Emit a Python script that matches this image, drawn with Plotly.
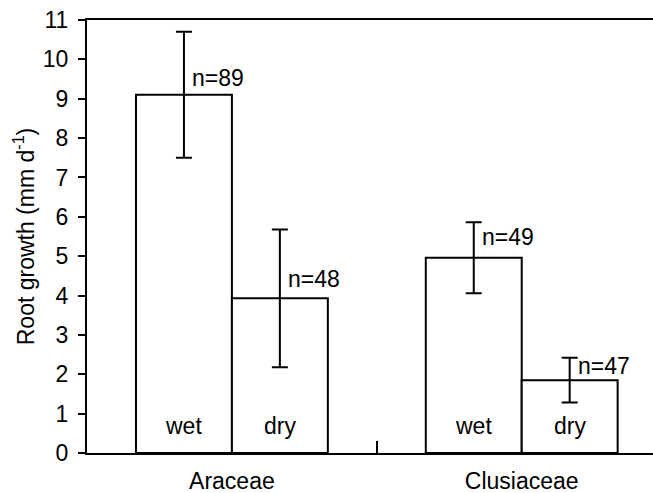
import plotly.graph_objects as go

# ---- data ----
families = ["Araceae", "Clusiaceae"]
conditions = ["wet", "dry"]
wet_mean = [9.1, 4.96]
wet_err = [1.6, 0.9]
dry_mean = [3.93, 1.85]
dry_err = [1.75, 0.57]
wet_n = [89, 49]
dry_n = [48, 47]
y_ticks = list(range(0, 12))

FONT = "Liberation Sans, Arial, Helvetica, sans-serif"
FS = 23
BW = 0.331
xpos = [1, 2]

fig = go.Figure()
fig.add_trace(go.Bar(
    x=xpos, y=wet_mean, width=BW, offset=-BW,
    marker=dict(color="white", line=dict(color="black", width=2)),
    error_y=dict(type="data", array=wet_err, color="black", thickness=2, width=8),
    name="wet", showlegend=False,
))
fig.add_trace(go.Bar(
    x=xpos, y=dry_mean, width=BW, offset=0,
    marker=dict(color="white", line=dict(color="black", width=2)),
    error_y=dict(type="data", array=dry_err, color="black", thickness=2, width=8),
    name="dry", showlegend=False,
))

annotations = []
# condition labels inside the bars
for i, xc in enumerate(xpos):
    for cx, lab in ((xc - BW / 2, conditions[0]), (xc + BW / 2, conditions[1])):
        annotations.append(dict(x=cx, y=0.69, xref="x", yref="y", text=lab,
                                showarrow=False, font=dict(family=FONT, size=FS, color="black")))
# n labels
for i, xc in enumerate(xpos):
    annotations.append(dict(x=xc - BW / 2, y=wet_mean[i], xref="x", yref="y",
                            text=f"n={wet_n[i]}", showarrow=False, xanchor="left",
                            xshift=6, yshift=[17, 21][i],
                            font=dict(family=FONT, size=FS, color="black")))
    annotations.append(dict(x=xc + BW / 2, y=dry_mean[i], xref="x", yref="y",
                            text=f"n={dry_n[i]}", showarrow=False, xanchor="left",
                            xshift=6, yshift=[19, 14][i],
                            font=dict(family=FONT, size=FS, color="black")))

fig.update_layout(
    width=653, height=493,
    margin=dict(l=87, r=0, t=20, b=40),
    paper_bgcolor="white", plot_bgcolor="white",
    barmode="overlay",
    font=dict(family=FONT, size=FS, color="black"),
    annotations=annotations,
    xaxis=dict(
        range=[0.5, 2.453], tickvals=xpos, ticktext=families, ticks="",
        showline=True, linecolor="black", linewidth=2, mirror=True,
        showgrid=False, zeroline=False, automargin=False,
        ticklabelstandoff=6,
        minor=dict(tickvals=[1.5], ticks="inside", ticklen=12, tickwidth=1.5, tickcolor="black"),
        tickfont=dict(family=FONT, size=FS, color="black"),
    ),
    yaxis=dict(
        range=[0, 11], tickvals=y_ticks, ticks="outside", ticklen=7, tickwidth=1.5,
        tickcolor="black", showline=True, linecolor="black", linewidth=2,
        showgrid=False, zeroline=False, automargin=False,
        ticklabelstandoff=5,
        tickfont=dict(family=FONT, size=FS, color="black"),
        title=dict(text="Root growth (mm d<sup>-1</sup>)", standoff=2,
                   font=dict(family=FONT, size=FS, color="black")),
    ),
)

fig.write_html("out.html", config={"displayModeBar": False},
               post_script="document.body.style.margin='0';document.body.style.overflow='hidden';")
